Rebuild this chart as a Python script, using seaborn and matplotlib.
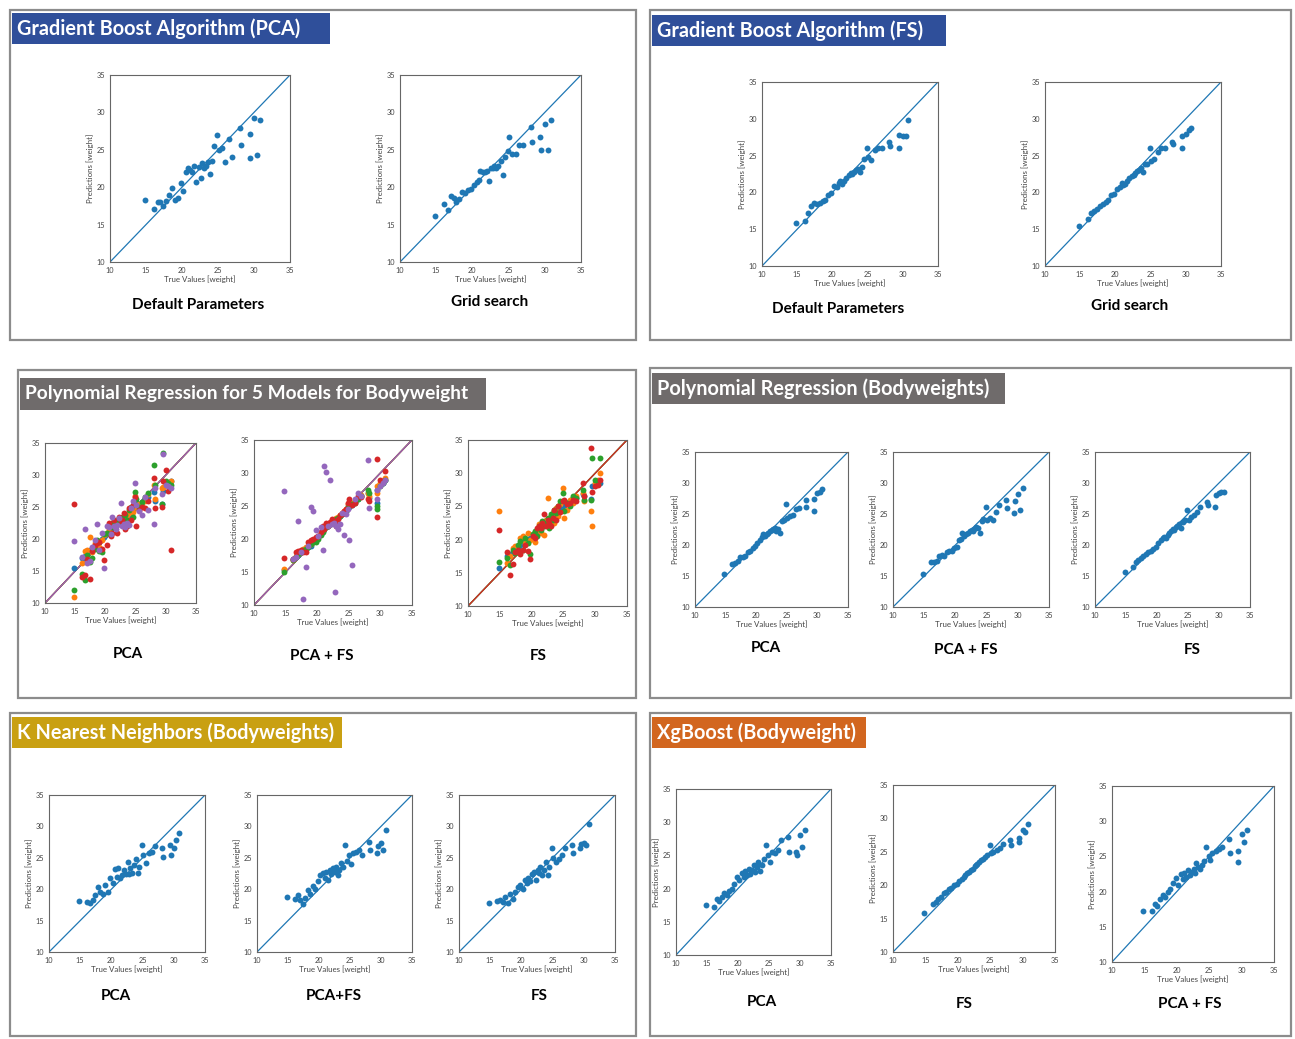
import numpy as np
import pandas as pd
import matplotlib
matplotlib.use("Agg")
import matplotlib.pyplot as plt
from matplotlib.patches import Rectangle
import seaborn as sns

# ---------------- data ----------------
true_vals = [14.8, 16.1, 16.6, 17.0, 17.4, 17.8, 18.2, 18.6, 19.0, 19.4,
             19.8, 20.2, 20.6, 20.9, 21.1, 21.4, 21.7, 22.0, 22.3, 22.6,
             22.8, 23.0, 23.3, 23.6, 23.9, 24.2, 24.5, 24.9, 25.1, 25.5,
             26.0, 26.5, 27.0, 28.1, 28.2, 29.4, 29.5, 30.0, 30.4, 30.8]

gb_pca_default = [18.3, 17.1, 18.0, 18.0, 17.5, 18.2, 19.0, 19.9, 18.3, 18.6,
                  20.6, 19.5, 22.0, 22.6, 22.3, 22.0, 22.9, 20.7, 22.7, 21.2,
                  23.3, 22.6, 22.9, 23.4, 21.8, 23.5, 25.5, 27.0, 25.0, 25.2,
                  23.4, 26.5, 24.0, 27.9, 25.6, 27.1, 23.9, 29.2, 24.3, 29.0]
gb_pca_grid = [16.1, 17.7, 16.9, 18.8, 18.5, 18.0, 18.4, 19.3, 19.2, 19.6,
               19.8, 20.3, 20.7, 21.0, 22.2, 22.0, 22.0, 22.1, 20.8, 22.6,
               22.5, 22.8, 22.5, 22.9, 23.5, 21.6, 24.0, 24.9, 26.7, 24.5,
               24.4, 25.6, 25.6, 28.0, 26.1, 26.7, 25.0, 28.5, 25.0, 29.0]
gb_fs_default = [15.8, 16.1, 17.2, 18.1, 18.5, 18.4, 18.5, 18.8, 19.0, 19.7,
                 19.9, 20.9, 20.8, 21.3, 21.5, 21.2, 21.5, 21.9, 22.3, 22.6,
                 22.5, 22.8, 23.0, 23.2, 22.8, 23.4, 24.6, 26.1, 24.8, 24.4,
                 25.8, 26.0, 26.1, 26.9, 26.3, 26.0, 27.8, 27.7, 27.7, 29.8]
gb_fs_grid = [15.4, 16.4, 17.2, 17.5, 17.8, 18.2, 18.4, 18.7, 18.9, 19.7,
              19.8, 20.4, 20.8, 21.3, 21.0, 21.2, 21.5, 21.9, 22.2, 22.4,
              22.7, 22.9, 23.1, 23.3, 22.8, 23.9, 23.9, 26.0, 24.2, 24.6,
              25.5, 26.1, 26.1, 26.8, 26.6, 26.0, 27.6, 28.0, 28.5, 28.8]

# Polynomial regression, 5 models (blue, orange, green, red, purple)
p5_pca_blue = [15.4, 17.0, 17.3, 18.0, 18.3, 18.5, 19.0, 19.2, 19.6, 20.0,
               20.3, 20.8, 21.3, 21.6, 22.0, 21.8, 22.3, 22.5, 22.6, 23.0,
               22.8, 23.2, 23.5, 23.6, 23.8, 24.0, 24.5, 25.5, 25.8, 25.0,
               25.8, 26.2, 26.5, 27.3, 26.0, 25.5, 27.5, 28.7, 28.5, 29.0]
p5_pca_orange = [10.9, 16.2, 18.2, 18.3, 20.3, 18.0, 19.3, 19.0, 18.8, 19.8,
                 20.6, 21.0, 21.5, 21.8, 22.0, 22.4, 22.3, 22.6, 22.8, 23.2,
                 23.0, 22.4, 23.4, 23.7, 24.0, 24.5, 24.2, 26.7, 25.0, 25.5,
                 25.2, 26.0, 27.0, 28.5, 26.3, 28.0, 28.2, 28.8, 28.3, 29.0]
p5_pca_green = [12.0, 14.5, 13.6, 17.5, 16.4, 17.0, 18.5, 19.8, 18.2, 18.0,
                20.8, 21.0, 22.0, 21.8, 22.5, 22.0, 22.8, 22.4, 23.3, 22.8,
                23.5, 22.6, 23.8, 23.0, 24.5, 25.0, 23.5, 27.3, 26.2, 25.0,
                25.8, 26.5, 27.2, 31.5, 28.5, 25.5, 33.4, 29.0, 28.8, 28.5]
p5_pca_red = [25.4, 14.1, 14.3, 16.8, 13.8, 18.2, 19.0, 19.3, 19.5, 18.5,
              16.7, 19.0, 22.5, 20.5, 21.0, 23.0, 22.0, 21.0, 23.5, 22.8,
              23.0, 24.0, 21.5, 22.0, 24.8, 23.0, 25.3, 26.5, 22.0, 24.6,
              25.0, 24.8, 26.0, 29.5, 24.8, 25.0, 29.0, 30.8, 27.5, 18.3]
p5_pca_purple = [19.7, 17.2, 21.6, 16.3, 16.6, 18.7, 19.8, 22.3, 18.3, 21.0,
                 15.4, 22.0, 21.8, 20.8, 23.4, 22.0, 21.5, 22.2, 23.3, 25.6,
                 22.0, 22.4, 21.8, 22.5, 22.2, 24.8, 26.0, 28.7, 25.3, 24.3,
                 23.7, 26.5, 24.5, 22.3, 28.0, 27.0, 33.3, 28.5, 28.3, 28.0]

p5_pcafs_blue = [15.3, 17.0, 17.3, 17.6, 18.0, 18.3, 18.5, 18.8, 19.0, 19.5,
                 19.8, 20.3, 20.8, 21.2, 21.6, 21.8, 22.0, 22.2, 22.5, 22.7,
                 22.8, 23.0, 23.2, 23.5, 23.8, 24.0, 24.3, 25.0, 24.8, 25.2,
                 25.6, 26.0, 26.5, 27.0, 26.2, 25.5, 27.5, 28.3, 28.5, 29.0]
p5_pcafs_orange = [15.5, 16.8, 17.5, 17.8, 18.2, 18.5, 18.8, 19.0, 19.3, 19.6,
                   20.0, 20.5, 21.0, 21.3, 21.8, 22.0, 22.2, 22.4, 22.6, 22.9,
                   23.0, 23.2, 23.4, 23.7, 24.0, 24.2, 24.5, 25.3, 25.0, 25.4,
                   25.8, 26.2, 26.6, 27.0, 26.5, 27.0, 28.0, 28.5, 28.8, 29.2]
p5_pcafs_green = [15.0, 16.8, 17.3, 17.8, 18.0, 18.3, 18.5, 18.8, 19.2, 19.5,
                  19.6, 20.0, 20.6, 21.0, 21.5, 21.8, 22.0, 22.2, 22.5, 22.6,
                  22.8, 23.0, 23.2, 23.5, 23.8, 24.0, 24.3, 24.8, 25.0, 25.3,
                  25.5, 26.0, 26.5, 27.5, 27.0, 24.6, 25.0, 28.0, 28.5, 29.0]
p5_pcafs_red = [17.1, 17.0, 18.0, 18.2, 18.3, 18.0, 18.0, 19.5, 19.8, 20.0,
                20.3, 20.5, 21.0, 22.0, 21.5, 22.5, 22.0, 22.6, 23.0, 22.8,
                22.5, 22.0, 23.0, 23.6, 23.8, 24.3, 24.5, 25.5, 26.0, 25.2,
                25.5, 26.5, 26.3, 26.0, 25.8, 32.1, 23.3, 29.0, 28.8, 30.3]
p5_pcafs_purple = [27.3, 17.0, 17.2, 22.7, 18.0, 10.9, 15.8, 19.0, 24.9, 24.3,
                   21.3, 20.5, 21.8, 18.3, 31.1, 30.1, 22.0, 29.0, 22.3, 22.5,
                   11.9, 22.0, 21.5, 22.3, 24.0, 20.6, 23.8, 24.5, 19.8, 16.0,
                   26.0, 27.0, 26.5, 32.0, 24.7, 26.0, 27.5, 28.0, 28.5, 29.0]

p5_fs_blue = [15.7, 17.5, 17.8, 18.0, 18.5, 18.8, 19.2, 19.5, 19.8, 20.0,
              20.3, 20.6, 21.0, 21.3, 21.5, 21.8, 22.0, 22.3, 22.5, 22.8,
              23.0, 23.2, 23.5, 23.7, 23.9, 24.2, 24.5, 25.2, 25.0, 25.5,
              25.8, 26.3, 26.2, 26.8, 26.5, 26.1, 28.0, 28.3, 28.5, 28.5]
p5_fs_orange = [24.3, 16.5, 17.5, 18.8, 19.0, 18.3, 20.3, 20.5, 19.5, 21.0,
                20.0, 20.8, 19.6, 21.5, 22.3, 21.0, 22.5, 20.7, 23.0, 26.3,
                22.0, 23.5, 24.0, 22.5, 24.8, 23.5, 25.3, 27.8, 23.2, 24.5,
                26.0, 25.5, 26.5, 27.0, 25.8, 24.3, 22.1, 28.5, 29.0, 30.0]
p5_fs_green = [16.7, 17.3, 16.2, 18.5, 18.0, 19.2, 19.8, 18.5, 20.3, 19.5,
               17.8, 20.8, 21.3, 20.5, 22.0, 21.5, 22.8, 22.0, 22.5, 23.3,
               21.8, 23.8, 23.0, 24.5, 24.0, 25.0, 25.8, 27.0, 24.3, 25.5,
               25.0, 26.5, 26.3, 27.5, 26.0, 26.0, 32.3, 29.0, 28.3, 32.3]
p5_fs_red = [21.5, 18.2, 14.6, 16.3, 18.2, 18.5, 17.8, 18.5, 19.2, 18.3,
             17.1, 20.5, 20.3, 21.8, 22.0, 21.8, 22.5, 23.8, 22.0, 23.0,
             22.5, 22.0, 23.3, 24.5, 23.0, 25.0, 24.2, 25.8, 26.0, 25.3,
             25.5, 26.0, 25.8, 28.5, 26.5, 33.8, 27.1, 28.0, 28.2, 29.0]

pr_pca = [15.3, 17.0, 17.1, 17.5, 18.1, 18.0, 18.3, 18.8, 19.0, 19.5,
          19.8, 20.3, 20.8, 21.3, 21.8, 21.5, 21.7, 22.0, 22.3, 22.5,
          22.6, 22.8, 22.3, 22.6, 22.0, 23.8, 24.0, 26.6, 24.3, 24.6,
          24.8, 25.8, 26.0, 27.2, 26.2, 25.5, 27.5, 28.4, 28.5, 29.0]
pr_pcafs = [15.3, 17.3, 17.3, 17.5, 18.2, 18.4, 18.3, 18.9, 19.1, 19.0,
            19.5, 19.7, 20.8, 21.0, 21.9, 21.5, 21.8, 22.0, 22.3, 22.5,
            22.2, 22.6, 22.9, 22.8, 21.9, 23.8, 24.2, 26.2, 24.0, 24.3,
            24.1, 25.4, 26.5, 27.3, 26.0, 25.2, 27.1, 28.2, 25.7, 29.2]
pr_fs = [15.6, 16.5, 17.3, 17.6, 17.9, 18.2, 18.5, 18.9, 19.1, 19.4,
         19.6, 20.3, 20.8, 21.1, 21.3, 21.2, 21.6, 22.0, 22.3, 22.6,
         22.5, 22.9, 23.1, 23.4, 22.8, 23.7, 24.0, 25.6, 24.1, 24.5,
         24.8, 25.3, 26.1, 26.9, 26.5, 26.1, 28.0, 28.4, 28.5, 28.5]

knn_pca = [18.2, 18.0, 17.8, 18.3, 19.0, 20.3, 19.6, 19.2, 20.7, 19.5,
           21.8, 21.0, 23.2, 22.0, 23.4, 21.8, 22.3, 23.0, 22.5, 24.3,
           22.5, 23.3, 22.6, 23.8, 24.8, 22.6, 23.5, 27.0, 25.5, 24.2,
           25.8, 26.0, 26.8, 26.5, 25.2, 27.0, 25.5, 26.5, 27.8, 29.0]
knn_pcafs = [18.8, 18.5, 19.0, 18.3, 17.6, 18.6, 19.8, 19.3, 20.5, 20.0,
             21.3, 22.2, 22.6, 21.8, 22.8, 21.5, 23.0, 22.4, 23.4, 22.8,
             23.6, 22.3, 23.1, 24.2, 23.5, 27.0, 24.5, 25.5, 24.0, 25.8,
             26.0, 26.3, 25.5, 27.5, 26.3, 25.8, 26.8, 27.3, 26.3, 29.4]
knn_fs = [17.8, 18.2, 18.3, 18.0, 18.8, 17.8, 19.3, 18.5, 19.5, 20.3,
          20.6, 20.0, 21.5, 21.0, 21.8, 21.3, 22.5, 22.8, 21.5, 23.0,
          22.6, 23.6, 22.3, 23.0, 24.3, 22.2, 23.5, 26.5, 25.0, 24.3,
          24.8, 25.5, 26.5, 27.0, 25.8, 26.5, 27.2, 27.4, 27.0, 30.4]

xgb_pca = [17.5, 17.3, 18.4, 18.2, 18.8, 19.3, 19.0, 19.6, 20.0, 20.7,
           21.8, 21.3, 22.3, 21.8, 22.7, 22.0, 23.0, 22.2, 22.8, 23.6,
           22.5, 23.3, 24.0, 22.7, 23.5, 24.5, 26.5, 25.0, 24.0, 25.5,
           25.3, 25.8, 27.3, 27.7, 25.5, 25.5, 25.0, 28.0, 26.3, 28.8]
xgb_fs = [15.8, 17.2, 17.5, 18.0, 18.3, 18.8, 19.0, 19.4, 19.6, 20.0,
          20.2, 20.6, 21.0, 21.3, 21.6, 21.8, 22.0, 22.3, 22.5, 22.8,
          23.0, 23.2, 23.5, 23.7, 23.9, 24.2, 24.5, 26.0, 24.8, 25.0,
          25.3, 25.6, 26.2, 26.8, 26.0, 26.5, 27.0, 28.3, 28.0, 29.2]
xgb_pcafs = [17.2, 17.3, 18.3, 18.0, 19.0, 19.5, 19.2, 20.0, 20.3, 21.2,
             22.0, 21.0, 22.5, 21.8, 22.7, 22.1, 23.0, 22.3, 22.8, 23.2,
             22.6, 24.0, 23.5, 23.2, 23.8, 24.3, 26.3, 25.0, 24.5, 25.5,
             25.8, 26.0, 26.3, 27.5, 25.5, 24.2, 25.8, 28.2, 27.0, 28.8]

axis_limits = [10, 35]
tick_values = [10, 15, 20, 25, 30, 35]

panel_titles = ["Gradient Boost Algorithm (PCA)", "Gradient Boost Algorithm (FS)",
                "Polynomial Regression for 5 Models for Bodyweight", "Polynomial Regression (Bodyweights)",
                "K Nearest Neighbors (Bodyweights)", "XgBoost (Bodyweight)"]

# ---------------- style ----------------
sns.set_style("white")
plt.rcParams['font.family'] = ['Lato', 'DejaVu Sans']

W, H = 1295, 1039
fig = plt.figure(figsize=(W / 100, H / 100), dpi=100)
fig.patch.set_facecolor("white")

PAL = sns.color_palette("tab10")
BLUE, ORANGE, GREEN, RED, PURPLE = PAL[0], PAL[1], PAL[2], PAL[3], PAL[4]


def rect_fig(x0, y0, x1, y1):
    return [x0 / W, 1 - y1 / H, (x1 - x0) / W, (y1 - y0) / H]


def draw_box(x0, y0, x1, y1, title, color, bx1, by0, by1, fs=14.3):
    fig.patches.append(Rectangle((x0 / W, 1 - y1 / H), (x1 - x0) / W, (y1 - y0) / H,
                                 transform=fig.transFigure, fill=False,
                                 edgecolor="#8c8c8c", linewidth=1.6, zorder=0))
    fig.patches.append(Rectangle(((x0 + 2) / W, 1 - by1 / H), (bx1 - x0 - 2) / W, (by1 - by0) / H,
                                 transform=fig.transFigure, facecolor=color,
                                 edgecolor="none", zorder=1))
    fig.text((x0 + 7) / W, 1 - (by0 + by1) / 2 / H, title, color="white",
             fontsize=fs, fontweight="bold", va="center", ha="left")


def draw_scatter(x0, y0, x1, y1, series, colors, caption, cx, cy):
    ax = fig.add_axes(rect_fig(x0, y0, x1, y1))
    for vals, col in zip(series, colors):
        df = pd.DataFrame({"true": true_vals, "pred": vals})
        sns.scatterplot(data=df, x="true", y="pred", ax=ax, color=col, s=18,
                        linewidth=0, zorder=3)
        ax.plot(axis_limits, axis_limits, color=col, linewidth=0.9, zorder=2)
    ax.set_xlim(axis_limits)
    ax.set_ylim(axis_limits)
    ax.set_xticks(tick_values)
    ax.set_yticks(tick_values)
    ax.tick_params(labelsize=5.3, colors="#444444", length=2, width=0.5, pad=1.5)
    ax.set_xlabel("True Values [weight]", fontsize=5.7, color="#444444", labelpad=1)
    ax.set_ylabel("Predictions [weight]", fontsize=5.7, color="#444444", labelpad=2)
    for sp in ax.spines.values():
        sp.set_color("#666666")
        sp.set_linewidth(0.8)
    fig.text(cx / W, 1 - cy / H, caption, fontsize=11, fontweight="bold",
             ha="center", va="center", color="black")
    return ax


# Panel 1: Gradient Boost (PCA)
draw_box(10, 10, 636, 340, panel_titles[0], "#2F4F9A", 330, 13, 44)
draw_scatter(110, 75, 290, 262, [gb_pca_default], [BLUE], "Default Parameters", 198, 305)
draw_scatter(400, 75, 581, 262, [gb_pca_grid], [BLUE], "Grid search", 490, 302)

# Panel 2: Gradient Boost (FS)
draw_box(650, 10, 1291, 340, panel_titles[1], "#2F4F9A", 946, 15, 46)
draw_scatter(762, 82, 938, 266, [gb_fs_default], [BLUE], "Default Parameters", 838, 309)
draw_scatter(1045, 82, 1221, 266, [gb_fs_grid], [BLUE], "Grid search", 1130, 306)

# Panel 3: Polynomial regression, 5 models
draw_box(18, 370, 636, 698, panel_titles[2], "#6F6B6B", 486, 378, 410, fs=13.8)
draw_scatter(45, 443, 196, 603,
             [p5_pca_blue, p5_pca_orange, p5_pca_green, p5_pca_red, p5_pca_purple],
             [BLUE, ORANGE, GREEN, RED, PURPLE], "PCA", 128, 654)
draw_scatter(254, 440, 412, 605,
             [p5_pcafs_blue, p5_pcafs_orange, p5_pcafs_green, p5_pcafs_red, p5_pcafs_purple],
             [BLUE, ORANGE, GREEN, RED, PURPLE], "PCA + FS", 322, 656)
draw_scatter(468, 440, 627, 606,
             [p5_fs_blue, p5_fs_orange, p5_fs_green, p5_fs_red],
             [BLUE, ORANGE, GREEN, RED], "FS", 538, 656)

# Panel 4: Polynomial regression (Bodyweights)
draw_box(650, 368, 1291, 698, panel_titles[3], "#6F6B6B", 1005, 373, 404)
draw_scatter(695, 452, 848, 607, [pr_pca], [BLUE], "PCA", 766, 648)
draw_scatter(893, 452, 1049, 607, [pr_pcafs], [BLUE], "PCA + FS", 966, 650)
draw_scatter(1095, 452, 1250, 607, [pr_fs], [BLUE], "FS", 1192, 650)

# Panel 5: KNN
draw_box(10, 713, 636, 1036, panel_titles[4], "#C9A012", 342, 717, 748)
draw_scatter(49, 795, 205, 952, [knn_pca], [BLUE], "PCA", 116, 996)
draw_scatter(257, 795, 412, 952, [knn_pcafs], [BLUE], "PCA+FS", 334, 996)
draw_scatter(459, 795, 615, 952, [knn_fs], [BLUE], "FS", 539, 996)

# Panel 6: XgBoost
draw_box(650, 713, 1291, 1036, panel_titles[5], "#D2661F", 866, 717, 748)
draw_scatter(676, 789, 831, 955, [xgb_pca], [BLUE], "PCA", 762, 1002)
draw_scatter(893, 785, 1055, 952, [xgb_fs], [BLUE], "FS", 964, 1004)
draw_scatter(1112, 786, 1274, 962, [xgb_pcafs], [BLUE], "PCA + FS", 1190, 1004)

fig.savefig("out.png", dpi=100, facecolor="white")
